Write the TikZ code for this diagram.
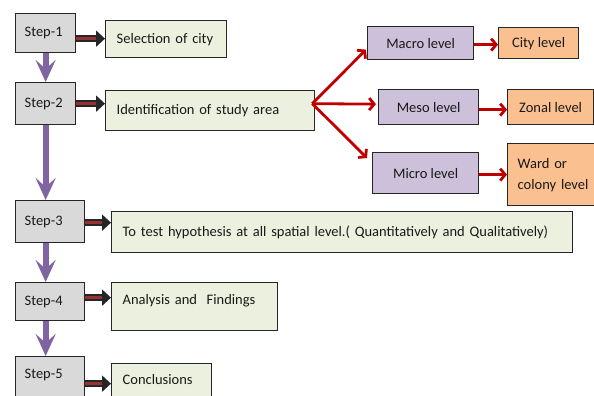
\documentclass[tikz,border=0pt]{standalone}
\usepackage{fontspec}
\setmainfont{Carlito}
\usetikzlibrary{arrows.meta}
\definecolor{stepf}{HTML}{D9D9D9}
\definecolor{greenf}{HTML}{EBF1DE}
\definecolor{purplef}{HTML}{CCC0DA}
\definecolor{orangef}{HTML}{FAC090}
\definecolor{purplearr}{HTML}{8064A2}
\definecolor{redarr}{HTML}{C00000}
\definecolor{innerred}{HTML}{963232}
\definecolor{edge}{HTML}{262626}
\tikzset{
  box/.style={draw=edge, line width=1.3pt, inner sep=0pt, anchor=north west,
    font=\fontsize{14.5}{21}\selectfont, text=black!90},
  stepbox/.style={box, fill=stepf, align=left, inner xsep=9pt},
  gbox/.style={box, fill=greenf, align=left, inner xsep=11pt},
  pbox/.style={box, fill=purplef, align=center},
  obox/.style={box, fill=orangef, align=center},
  saouter/.style={line width=7pt, edge, -{Triangle[length=9pt,width=16pt]}},
  sainner/.style={line width=3pt, innerred, shorten >=9pt},
  varrow/.style={line width=6pt, purplearr, -{Stealth[length=22pt,width=20pt,inset=9pt]}},
  rarrow/.style={line width=2.8pt, redarr, -{Straight Barb[length=5pt,width=12pt]}},
}
\newcommand\StepArr[2]{\draw[saouter] #1 -- #2; \draw[sainner] #1 -- #2;}
\begin{document}
\begin{tikzpicture}[x=1pt,y=-1pt]
\useasboundingbox (0,0) rectangle (594,396);
\clip (0,0) rectangle (594,396);
% step boxes
\node[stepbox, minimum width=60pt, minimum height=39pt, text width=42pt] (s1) at (15,13) {Step-1};
\node[stepbox, minimum width=60pt, minimum height=42pt, text width=42pt] (s2) at (15,82) {Step-2};
\node[stepbox, minimum width=69pt, minimum height=42pt, text width=51pt] (s3) at (15,200) {Step-3};
\node[stepbox, minimum width=69pt, minimum height=38pt, text width=51pt] (s4) at (15,282) {Step-4};
\node[stepbox, minimum width=69pt, minimum height=44pt, text width=51pt, text depth=10pt] (s5) at (15,356) {Step-5};
% green boxes
\node[gbox, minimum width=121pt, minimum height=37pt, text width=99pt] (g1) at (105,20) {Selection of city};
\node[gbox, minimum width=209pt, minimum height=40pt, text width=187pt] (g2) at (105,90) {Identification of study area};
\node[gbox, minimum width=461pt, minimum height=41pt, text width=439pt] (g3) at (111,211) {To test hypothesis at all spatial level.( Quantitatively and Qualitatively)};
\node[gbox, minimum width=166pt, minimum height=48pt, text width=144pt, text depth=14pt] (g4) at (111,282) {Analysis and~ Findings};
\node[gbox, minimum width=100pt, minimum height=44pt, text width=78pt, text depth=12pt] (g5) at (111,363) {Conclusions};
% levels
\node[pbox, minimum width=106pt, minimum height=33pt] (macro) at (367,26) {Macro level};
\node[pbox, minimum width=100pt, minimum height=35pt] (meso) at (378,89) {Meso level};
\node[pbox, minimum width=106pt, minimum height=41pt] (micro) at (372,152) {Micro level};
\node[obox, minimum width=80pt, minimum height=31pt] (city) at (498,27) {City level};
\node[obox, minimum width=86pt, minimum height=35pt] (zonal) at (507,89) {Zonal level};
\node[box, fill=orangef, align=left, inner xsep=10pt, minimum width=96pt, minimum height=62pt, text width=76pt] (ward) at (507,143) {Ward or\\colony level};
% step -> text arrows
\StepArr{([yshift=-5.5pt]s1.east)}{([yshift=-5.5pt]s1.east -| g1.west)}
\StepArr{(s2.east)}{(s2.east -| g2.west)}
\StepArr{([yshift=-1pt]s3.east)}{([yshift=-1pt]s3.east -| g3.west)}
\StepArr{([yshift=4pt]s4.east)}{([yshift=4pt]s4.east -| g4.west)}
\StepArr{([yshift=-5pt]s5.east)}{([yshift=-5pt]s5.east -| g5.west)}
% vertical purple arrows
\draw[varrow] (s1.south) -- (s2.north);
\draw[varrow] (s2.south) -- (s2.south |- s3.north);
\draw[varrow] (s2.south |- s3.south) -- (s2.south |- s4.north);
\draw[varrow] (s2.south |- s4.south) -- (s2.south |- s5.north);
% red fan
\coordinate (fan) at ([xshift=-3pt,yshift=7pt]g2.east);
\draw[rarrow] (fan) -- ([xshift=-1pt,yshift=-6.5pt]macro.west);
\draw[rarrow] (fan) -- ([xshift=-2pt,yshift=3pt]meso.west);
\draw[rarrow] (fan) -- ([xshift=-5pt,yshift=-6pt]micro.north west);
\draw[rarrow] ([yshift=-1.5pt]macro.east) -- ([yshift=-1.5pt]macro.east -| city.west);
\draw[rarrow] ([yshift=-2.5pt]meso.east) -- ([yshift=-2.5pt]meso.east -| zonal.west);
\draw[rarrow] ([yshift=-1.5pt]micro.east) -- ([yshift=-1.5pt]micro.east -| ward.west);
\end{tikzpicture}
\end{document}
